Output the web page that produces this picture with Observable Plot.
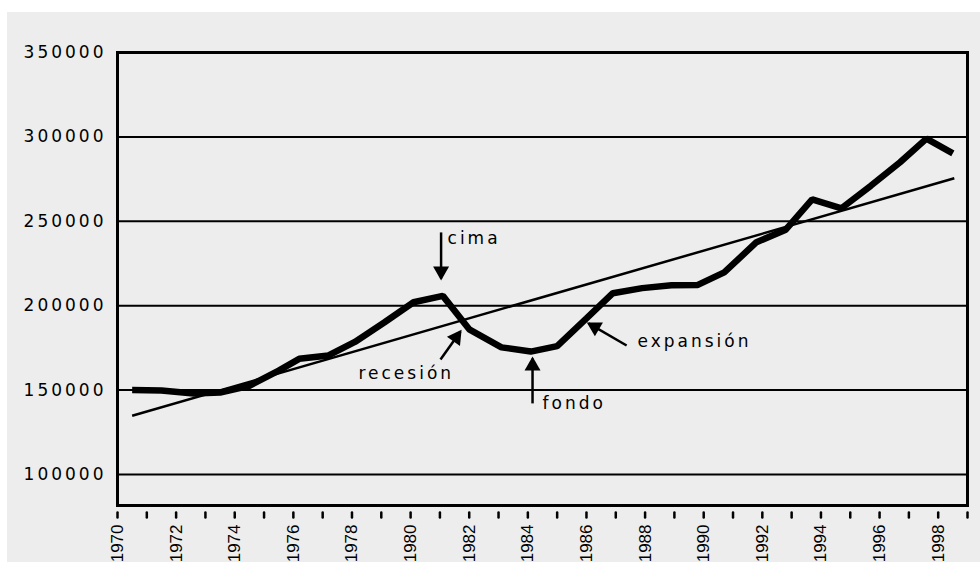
<!DOCTYPE html>
<html>
<head>
<meta charset="utf-8">
<script src="https://cdn.jsdelivr.net/npm/d3@7"></script>
<script src="https://cdn.jsdelivr.net/npm/@observablehq/plot@0.6"></script>
<style>
  html, body { margin: 0; padding: 0; background: #ffffff; }
  #chart { position: absolute; left: 7px; top: 12px; width: 973px; height: 550px; background: #ededed; overflow: hidden; }
  #chart svg { display: block; background: #ededed; }
  #chart svg text { letter-spacing: 3px; }
  #chart svg g[aria-label="x-axis tick label"] text { letter-spacing: 0px; }
</style>
</head>
<body>
<div id="chart"></div>
<script>
const years = [1970.5, 1971.5, 1972.6, 1973.5, 1974.5, 1975.5, 1976.2, 1977.2, 1978.1, 1979.1,
               1980.1, 1981.1, 1982.0, 1983.1, 1984.1, 1985.0, 1986.0, 1986.9, 1987.9, 1988.9,
               1989.8, 1990.7, 1991.8, 1992.8, 1993.7, 1994.7, 1995.7, 1996.7, 1997.6, 1998.5];
const output = [150000, 149800, 148000, 148500, 152500, 161500, 168500, 170500, 178500, 190000,
                202000, 205800, 186000, 175300, 172800, 176000, 192500, 207400, 210400, 212100,
                212300, 219700, 237600, 245000, 263000, 257700, 271000, 285000, 299000, 290200];

// Trend line endpoints
const trendYears = [1970.5, 1998.55];
const trendValues = [134800, 275500];

// Axis ticks
const yTicks = [100000, 150000, 200000, 250000, 300000, 350000];
const gridValues = [100000, 150000, 200000, 250000, 300000];
const xTicks = d3.range(1970, 2000);
const xLabelYears = d3.range(1970, 2000, 2);

// Annotations
const labelTexts = ["cima", "recesión", "fondo", "expansión"];
const labelX = [1981.26, 1978.22, 1984.5, 1987.74];
const labelY = [239800, 159800, 142100, 178800];
const arrowX1 = [1981.04, 1981.02, 1984.16, 1987.37];
const arrowY1 = [243400, 168100, 142100, 176400];
const arrowX2 = [1981.04, 1981.70, 1984.16, 1986.07];
const arrowY2 = [216100, 184700, 168700, 189500];

const series = years.map((y, i) => ({year: y, value: output[i]}));
const trend = trendYears.map((y, i) => ({year: y, value: trendValues[i]}));
const labels = labelTexts.map((t, i) => ({text: t, x: labelX[i], y: labelY[i]}));
const arrows = arrowX1.map((x, i) => ({x1: x, y1: arrowY1[i], x2: arrowX2[i], y2: arrowY2[i]}));

const NS = "http://www.w3.org/2000/svg";
function headMarker(color) {
  const m = document.createElementNS(NS, "marker");
  m.setAttribute("viewBox", "-14 -9 18 18");
  m.setAttribute("markerWidth", 18);
  m.setAttribute("markerHeight", 18);
  m.setAttribute("markerUnits", "userSpaceOnUse");
  m.setAttribute("orient", "auto");
  m.setAttribute("refX", 0);
  m.setAttribute("refY", 0);
  const p = document.createElementNS(NS, "path");
  p.setAttribute("d", "M-12,-8L2,0L-12,8Z");
  p.setAttribute("fill", color === "currentColor" ? "black" : color);
  p.setAttribute("stroke", "none");
  m.appendChild(p);
  return m;
}
const tickShape = {draw(context, l) { context.moveTo(0, 0); context.lineTo(0, -l); }};

const annotFont = "DejaVu Sans, Verdana, sans-serif";

const chart = Plot.plot({
  width: 973,
  height: 550,
  marginLeft: 110,
  marginRight: 13,
  marginTop: 40,
  marginBottom: 57,
  style: {background: "#ededed", color: "black"},
  x: {domain: [1970, 1999]},
  y: {domain: [81600, 350000]},
  marks: [
    Plot.ruleY(gridValues, {stroke: "black", strokeWidth: 2}),
    Plot.frame({stroke: "black", strokeWidth: 3}),
    Plot.axisY({ticks: yTicks, tickSize: 0, tickPadding: 11, tickFormat: d => String(d),
                fontSize: 17, fontFamily: annotFont, fill: "black", label: null}),
    Plot.vector(xTicks, {x: d => d, frameAnchor: "bottom", length: 5, rotate: 180, anchor: "start",
                         dy: 7, shape: tickShape, stroke: "black", strokeWidth: 2.5}),
    Plot.axisX({ticks: xLabelYears, tickSize: 0, tickPadding: 19, tickRotate: -90,
                tickFormat: d => String(d),
                fontSize: 17, fontFamily: "Liberation Sans, Arial, sans-serif", fill: "black", label: null}),
    Plot.line(trend, {x: "year", y: "value", stroke: "black", strokeWidth: 2.5, strokeLinecap: "butt"}),
    Plot.line(series, {x: "year", y: "value", stroke: "black", strokeWidth: 6.5,
                       strokeLinecap: "butt", strokeLinejoin: "miter"}),
    Plot.link(arrows, {x1: "x1", y1: "y1", x2: "x2", y2: "y2", stroke: "black", strokeWidth: 2.5,
                       markerEnd: headMarker}),
    Plot.text(labels, {x: "x", y: "y", text: "text", textAnchor: "start", fontSize: 17,
                       fontFamily: annotFont, fill: "black"})
  ]
});
document.getElementById("chart").appendChild(chart);
</script>
</body>
</html>
